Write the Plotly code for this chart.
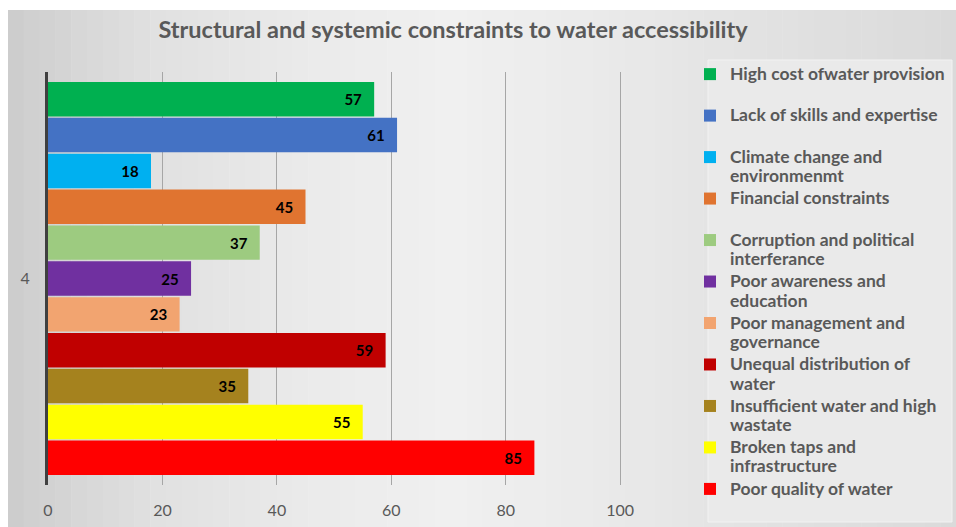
import plotly.graph_objects as go

categories = ["4"]
series_names = [
    "High cost ofwater provision",
    "Lack of skills and expertise",
    "Climate change and<br>environmenmt",
    "Financial constraints",
    "Corruption and political<br>interferance",
    "Poor awareness and<br>education",
    "Poor management and<br>governance",
    "Unequal distribution of<br>water",
    "Insufficient water and high<br>wastate",
    "Broken taps and<br>infrastructure",
    "Poor quality of water",
]
series_values = [57, 61, 18, 45, 37, 25, 23, 59, 35, 55, 85]
series_colors = [
    "#00B050", "#4472C4", "#00B0F0", "#E07430", "#9DCB80", "#7030A0",
    "#F2A470", "#C00000", "#A5821E", "#FFFF00", "#FF0000",
]
x_ticks = [0, 20, 40, 60, 80, 100]
title_text = "Structural and systemic constraints to water accessibility"

W, H = 956, 527
L, R, T, B = 48, 290, 72, 42
pw, ph = W - L - R, H - T - B

def px_x(p):
    return (p - L) / pw

def px_y(p):
    return (H - B - p) / ph

FONT = "Lato"
GRAY = "#595959"

def legend_label(name):
    lines = name.split("<br>")
    if len(lines) < 2:
        lines.append("\u00a0")
    return "<br>".join(f'<span style="font-size:17.5px">{ln}</span>' for ln in lines)

fig = go.Figure()
for i in reversed(range(len(series_names))):
    fig.add_trace(go.Bar(
        y=categories, x=[series_values[i]], orientation="h",
        name=legend_label(series_names[i]),
        marker=dict(color=series_colors[i], line=dict(width=0)),
        text=[str(series_values[i])], textposition="inside",
        texttemplate="%{text}\u2002\u2009",
        insidetextanchor="end",
        textfont=dict(family=FONT, size=15, color="#000000", weight="bold"),
        cliponaxis=False,
    ))

# background gradient (chart area) via vertical strips
stops = [(8, 204), (60, 212), (150, 224), (300, 234), (450, 240), (600, 234), (760, 226), (956, 218)]
shapes = []
n = 60
x0p, x1p = 8, 956
for k in range(n):
    a = x0p + (x1p - x0p) * k / n
    b = x0p + (x1p - x0p) * (k + 1) / n
    m = (a + b) / 2
    for j in range(len(stops) - 1):
        if stops[j][0] <= m <= stops[j + 1][0]:
            t = (m - stops[j][0]) / (stops[j + 1][0] - stops[j][0])
            g = round(stops[j][1] + t * (stops[j + 1][1] - stops[j][1]))
            break
    shapes.append(dict(type="rect", xref="paper", yref="paper", layer="below",
                       x0=px_x(a), x1=px_x(b + 0.5), y0=px_y(527), y1=px_y(10),
                       fillcolor=f"rgb({g},{g},{g})", line=dict(width=0)))
# legend box
shapes.append(dict(type="rect", xref="paper", yref="paper", layer="below",
                   x0=px_x(708), x1=px_x(952), y0=px_y(522), y1=px_y(60),
                   fillcolor="#EAEAEA", line=dict(width=1, color="#F2F2F2")))

fig.update_layout(
    width=W, height=H,
    margin=dict(l=L, r=R, t=T, b=B, autoexpand=False),
    paper_bgcolor="white",
    plot_bgcolor="rgba(0,0,0,0)",
    barmode="group", bargap=0.045, bargroupgap=0.04,
    shapes=shapes,
    title=dict(text=title_text, x=453 / W, xanchor="center", xref="container",
               y=1 - 30 / H, yanchor="middle", yref="container",
               font=dict(family=FONT, size=23.5, color=GRAY, weight="bold")),
    font=dict(family=FONT, color=GRAY),
    xaxis=dict(range=[0, 108], tickvals=x_ticks, showgrid=True, gridcolor="#A6A6A6",
               gridwidth=1, zeroline=False, showline=False, ticks="",
               ticklabelstandoff=14, tickfont=dict(family=FONT, size=16, color=GRAY)),
    yaxis=dict(showline=True, linecolor="#404040", linewidth=3, ticks="",
               ticklabelstandoff=12, tickfont=dict(family=FONT, size=16, color=GRAY)),
    legend=dict(x=690 / W, xanchor="left", xref="container",
                y=1 - 58 / H, yanchor="top", yref="container",
                bgcolor="rgba(0,0,0,0)", traceorder="reversed", valign="top",
                font=dict(family=FONT, size=14.8, color=GRAY, weight="bold"),
                tracegroupgap=0, maxheight=520),
    showlegend=True,
)
fig.write_html("out.html")
